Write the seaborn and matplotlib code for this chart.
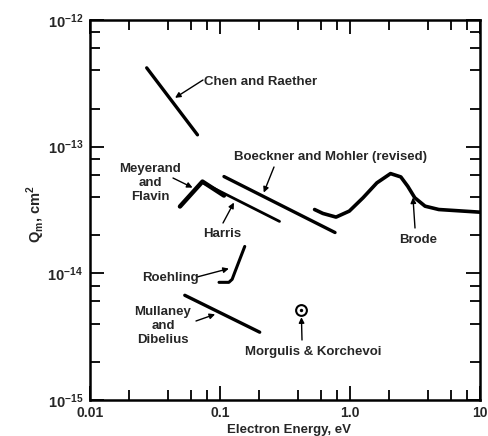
"""Momentum-transfer cross section vs electron energy (log-log line sketch)."""

import matplotlib
matplotlib.use("Agg")
import matplotlib.pyplot as plt
import matplotlib.ticker as mticker
import seaborn as sns

# --------------------------------------------------------------------------- #
# Data (electron energy in eV, Q_m in cm^2)
# --------------------------------------------------------------------------- #
chen_x = [0.0273, 0.0671]
chen_y = [4.19e-13, 1.24e-13]

meyerand_x = [0.0492, 0.0733, 0.1073]
meyerand_y = [3.37e-14, 5.30e-14, 4.11e-14]

harris_x = [0.0733, 0.287]
harris_y = [5.21e-14, 2.57e-14]

boeckner_x = [0.1073, 0.767]
boeckner_y = [5.81e-14, 2.10e-14]

brode_x = [0.534, 0.619, 0.781, 0.988, 1.26, 1.61, 2.05, 2.46, 2.78, 3.15, 3.78, 4.82, 10.0]
brode_y = [3.19e-14, 2.97e-14, 2.78e-14, 3.10e-14, 3.95e-14, 5.18e-14, 6.13e-14,
           5.77e-14, 4.87e-14, 3.95e-14, 3.39e-14, 3.19e-14, 3.04e-14]

roehling_x = [0.0983, 0.117, 0.124, 0.130, 0.155]
roehling_y = [8.49e-15, 8.49e-15, 8.97e-15, 1.02e-14, 1.63e-14]

mullaney_x = [0.0536, 0.202]
mullaney_y = [6.71e-15, 3.43e-15]

morgulis_x = [0.423]
morgulis_y = [5.11e-15]

# annotation: label, arrow tip (data), text position (figure px from top-left), alignment
LABELS = [
    ("Chen and Raether", (0.0451, 2.43e-13), (204, 82), "left"),
    ("Meyerand\nand\nFlavin", (0.0615, 4.75e-14), (150, 183), "center"),
    ("Harris", (0.128, 3.62e-14), (222, 234), "center"),
    ("Boeckner and Mohler (revised)", (0.217, 4.34e-14), (234, 157), "left"),
    ("Brode", (3.05, 3.97e-14), (418, 240), "center"),
    ("Roehling", (0.117, 1.09e-14), (170, 278), "center"),
    ("Mullaney\nand\nDibelius", (0.0917, 4.75e-15), (163, 326), "center"),
    ("Morgulis & Korchevoi", (0.423, 4.5e-15), (313, 352), "center"),
]
# arrow tails (figure px from top-left)
TAILS = [(203, 80), (173, 178), (223, 223), (274, 167), (415, 228),
         (197, 277), (196, 321), (302, 340)]

x_ticks = [0.01, 0.1, 1.0, 10]
x_ticklabels = ["0.01", "0.1", "1.0", "10"]
y_ticks = [1e-15, 1e-14, 1e-13, 1e-12]
y_ticklabels = [r"$\mathregular{10^{-15}}$", r"$\mathregular{10^{-14}}$",
                r"$\mathregular{10^{-13}}$", r"$\mathregular{10^{-12}}$"]

# --------------------------------------------------------------------------- #
# Styling
# --------------------------------------------------------------------------- #
sns.set_style("ticks")
plt.rcParams["font.family"] = ["Liberation Sans", "DejaVu Sans"]
plt.rcParams["font.weight"] = "bold"
plt.rcParams["mathtext.fontset"] = "custom"
plt.rcParams["mathtext.rm"] = "Liberation Sans:bold"
FS = 9.5
W, H = 488, 436

fig = plt.figure(figsize=(W / 100, H / 100), dpi=100)
ax = fig.add_axes([90 / W, 1 - 400 / H, 390 / W, 380 / H])
ax.set_xscale("log")
ax.set_yscale("log")

line_kw = dict(ax=ax, color="black", sort=False, estimator=None)
sns.lineplot(x=chen_x, y=chen_y, lw=2.4, **line_kw)
sns.lineplot(x=harris_x, y=harris_y, lw=2.0, **line_kw)
sns.lineplot(x=meyerand_x, y=meyerand_y, lw=3.2, **line_kw)
sns.lineplot(x=boeckner_x, y=boeckner_y, lw=2.4, **line_kw)
sns.lineplot(x=brode_x, y=brode_y, lw=2.6, **line_kw)
sns.lineplot(x=roehling_x, y=roehling_y, lw=2.2, **line_kw)
sns.lineplot(x=mullaney_x, y=mullaney_y, lw=2.4, **line_kw)
sns.scatterplot(x=morgulis_x, y=morgulis_y, ax=ax, s=60, marker="o",
                facecolor="white", edgecolor="black", linewidth=1.5, zorder=4)
sns.scatterplot(x=morgulis_x, y=morgulis_y, ax=ax, s=6, color="black",
                linewidth=0, zorder=5)

for (text, tip, (tx, ty), ha), (ax_, ay_) in zip(LABELS, TAILS):
    ax.annotate("", xy=tip, xycoords="data", xytext=(ax_, H - ay_),
                textcoords="figure pixels",
                arrowprops=dict(arrowstyle="-|>", lw=1.0, color="black",
                                mutation_scale=8, shrinkA=0, shrinkB=0))
    fig.text(tx / W, 1 - ty / H, text, ha=ha, va="center", fontsize=FS,
             fontweight="bold", linespacing=1.25)

ax.set_xlim(0.01, 10)
ax.set_ylim(1e-15, 1e-12)
ax.set_xticks(x_ticks)
ax.set_xticklabels(x_ticklabels, fontsize=FS + 0.5, fontweight="bold")
ax.set_yticks(y_ticks)
ax.set_yticklabels(y_ticklabels, fontsize=FS + 1)
ax.xaxis.set_minor_locator(mticker.LogLocator(base=10, subs=[2, 4, 6, 8]))
ax.yaxis.set_minor_locator(mticker.LogLocator(base=10, subs=[2, 4, 6, 8]))
ax.xaxis.set_minor_formatter(mticker.NullFormatter())
ax.yaxis.set_minor_formatter(mticker.NullFormatter())
ax.tick_params(which="both", direction="in", top=True, right=True, width=1.3,
               color="black")
ax.tick_params(which="major", length=10)
ax.tick_params(axis="x", which="major", pad=4)
ax.tick_params(axis="y", which="major", pad=5)
ax.tick_params(which="minor", length=7)
for sp in ax.spines.values():
    sp.set_linewidth(1.8)
    sp.set_color("black")

ax.set_xlabel("Electron Energy, eV", fontsize=FS, fontweight="bold")
ax.xaxis.set_label_coords(0.51, -0.062)
ax.set_ylabel(r"Q$_\mathregular{m}$, cm$^\mathregular{2}$", fontsize=FS + 1,
              fontweight="bold")
ax.yaxis.set_label_coords(-0.11, 0.49)

fig.savefig("out.png", dpi=100)
